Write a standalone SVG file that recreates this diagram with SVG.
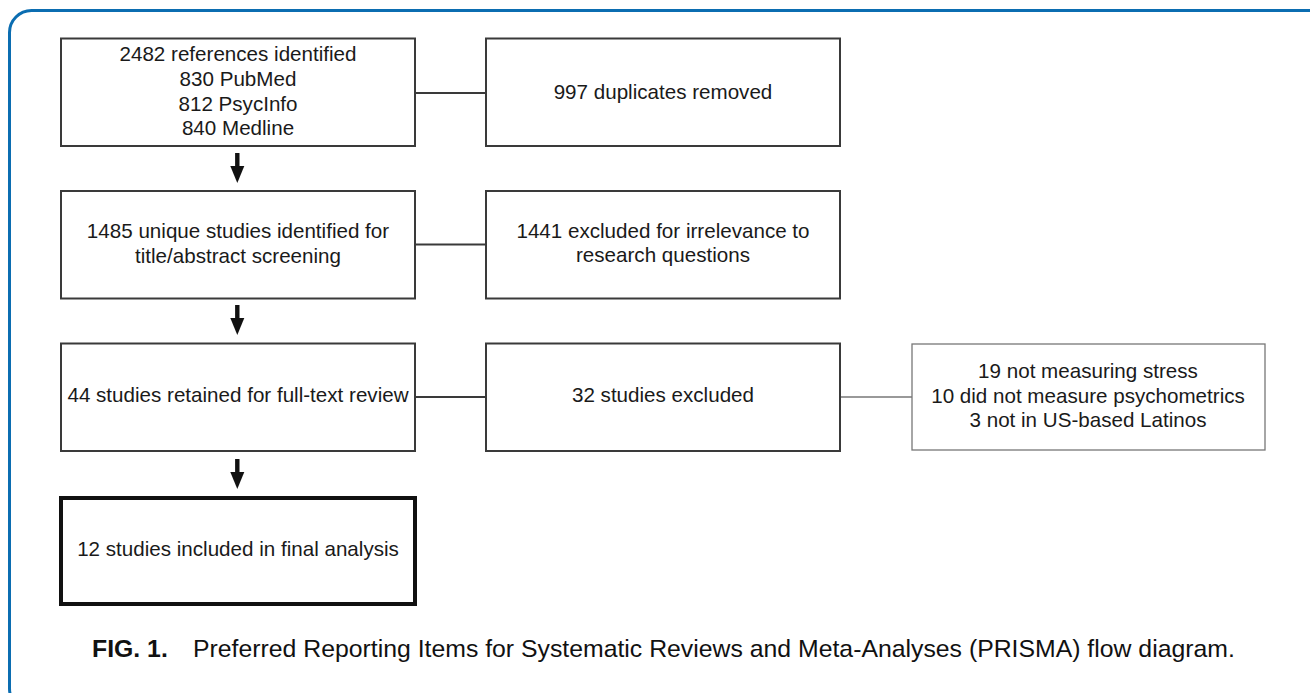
<svg xmlns="http://www.w3.org/2000/svg" width="1310" height="693" viewBox="0 0 1310 693">
<style>
.box{fill:#fff;stroke:#3a3a3a;stroke-width:2}
.thin{fill:#fff;stroke:#777;stroke-width:1.3}
.bold{fill:#fff;stroke:#111;stroke-width:4}
.t{font-family:"Liberation Sans",Arial,sans-serif;font-size:20.6px;fill:#1a1a1a;text-anchor:middle}
.ln{stroke:#3a3a3a;stroke-width:2;fill:none}
.lnthin{stroke:#777;stroke-width:1.3;fill:none}
.cap{font-family:"Liberation Sans",Arial,sans-serif;font-size:24.8px;fill:#111}
</style>
<defs>
<g id="arrow"><rect x="-2.2" y="0" width="4.4" height="14" fill="#111"/><polygon points="-7,13 7,13 0,30" fill="#111"/></g>
</defs>
<rect width="1310" height="693" fill="#fff"/>
<rect x="9.5" y="10.5" width="1340" height="700" rx="22" ry="22" fill="none" stroke="#0b6db1" stroke-width="3"/>
<g id="connectors">
<line class="ln" x1="415" y1="93" x2="486" y2="93"/>
<line class="ln" x1="415" y1="244.5" x2="486" y2="244.5"/>
<line class="ln" x1="415" y1="397" x2="486" y2="397"/>
<line class="lnthin" x1="841" y1="397" x2="912" y2="397"/>
<use href="#arrow" x="237.3" y="153"/>
<use href="#arrow" x="237.3" y="305"/>
<use href="#arrow" x="237.3" y="459"/>
</g>
<g id="n1">
<rect class="box" x="61" y="38.5" width="354" height="107.5"/>
<text class="t" x="238" y="61">2482 references identified</text>
<text class="t" x="238" y="86">830 PubMed</text>
<text class="t" x="238" y="110.5">812 PsycInfo</text>
<text class="t" x="238" y="135">840 Medline</text>
</g>
<g id="n2">
<rect class="box" x="486" y="38.5" width="354" height="107.5"/>
<text class="t" x="663" y="98.5">997 duplicates removed</text>
</g>
<g id="n3">
<rect class="box" x="61" y="191" width="354" height="107.5"/>
<text class="t" x="238" y="238">1485 unique studies identified for</text>
<text class="t" x="238" y="262.5">title/abstract screening</text>
</g>
<g id="n4">
<rect class="box" x="486" y="191" width="354" height="107.5"/>
<text class="t" x="663" y="238">1441 excluded for irrelevance to</text>
<text class="t" x="663" y="262">research questions</text>
</g>
<g id="n5">
<rect class="box" x="61" y="343.5" width="354" height="107.5"/>
<text class="t" x="238" y="402">44 studies retained for full-text review</text>
</g>
<g id="n6">
<rect class="box" x="486" y="343.5" width="354" height="107.5"/>
<text class="t" x="663" y="402">32 studies excluded</text>
</g>
<g id="n7">
<rect class="thin" x="912" y="344" width="353" height="106"/>
<text class="t" x="1088" y="378">19 not measuring stress</text>
<text class="t" x="1088" y="402.5">10 did not measure psychometrics</text>
<text class="t" x="1088" y="427">3 not in US-based Latinos</text>
</g>
<g id="n8">
<rect class="bold" x="61" y="498" width="354" height="106"/>
<text class="t" x="238" y="556">12 studies included in final analysis</text>
</g>
<text class="cap" x="92" y="657"><tspan font-weight="bold">FIG. 1.</tspan><tspan x="193">Preferred Reporting Items for Systematic Reviews and Meta-Analyses (PRISMA) flow diagram.</tspan></text>
</svg>
